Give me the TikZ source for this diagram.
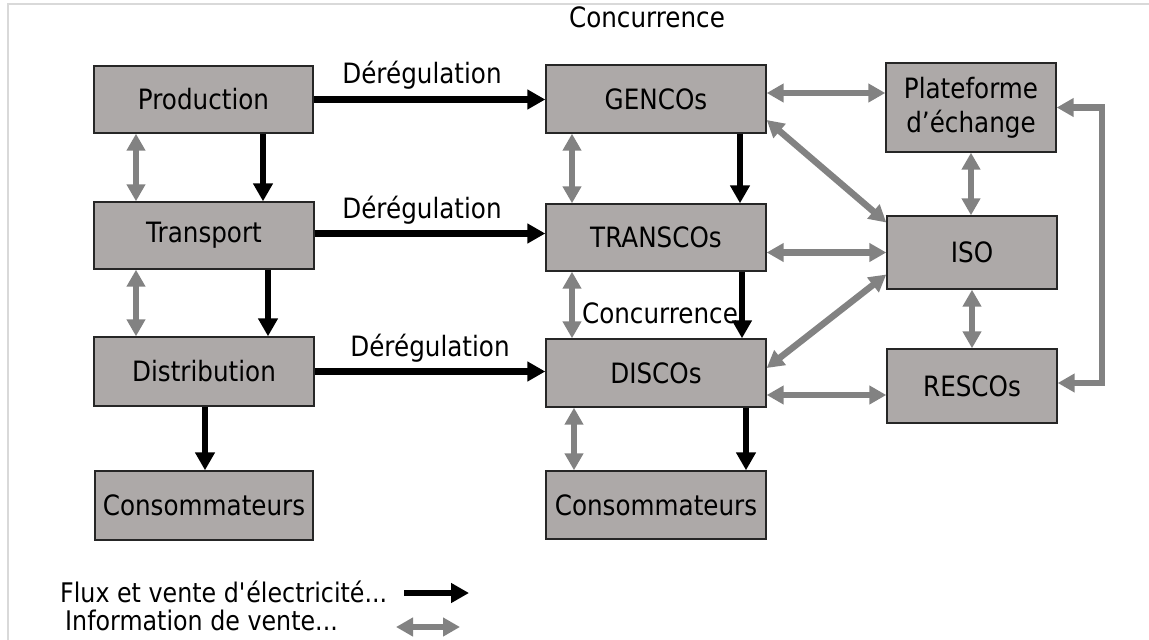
\documentclass[tikz,border=0pt]{standalone}
\usepackage{fontspec}
\setmainfont{DejaVu Sans}[FakeStretch=0.88]
\usetikzlibrary{arrows.meta}
\definecolor{boxgray}{RGB}{173,169,168}
\definecolor{infogray}{RGB}{130,130,130}
\definecolor{framegray}{RGB}{217,217,217}
\begin{document}
\begin{tikzpicture}[x=1pt,y=-1pt,
  box/.style={draw=black!85, fill=boxgray, line width=1.4pt, inner sep=0pt,
    align=center, font=\fontsize{28}{34}\selectfont},
  lbl/.style={inner sep=0pt, font=\fontsize{28}{34}\selectfont},
  legtext/.style={inner sep=0pt, font=\fontsize{27}{33}\selectfont},
  flow/.style={draw=black, line width=6.5pt, -{Triangle[length=18pt,width=19pt]}},
  info/.style={draw=infogray, line width=6.5pt, line join=miter,
    {Triangle[length=17pt,width=18pt]}-{Triangle[length=17pt,width=18pt]}}]
\useasboundingbox (0,0) rectangle (1149,640);
% outer frame (top and left edges only)
\draw[framegray, line width=2.5pt] (8,640) -- (8,4) -- (1149,4);

% regulated chain
\node[box, minimum width=219pt, minimum height=67pt] (prod)  at (203.5,99.5) {Production};
\node[box, minimum width=220pt, minimum height=67pt] (trans) at (204,235.5) {Transport};
\node[box, minimum width=220pt, minimum height=69pt] (dist)  at (204,371.5) {Distribution};
\node[box, minimum width=218pt, minimum height=69pt] (consL) at (204,505.5) {Consommateurs};

% deregulated market
\node[box, minimum width=220pt, minimum height=68pt] (gen)    at (656,99) {GENCOs};
\node[box, minimum width=220pt, minimum height=67pt] (transco) at (656,237.5) {TRANSCOs};
\node[box, minimum width=220pt, minimum height=68pt] (disco)  at (656,373) {DISCOs};
\node[box, minimum width=220pt, minimum height=68pt] (consR)  at (656,505) {Consommateurs};
\node[box, minimum width=170pt, minimum height=89pt] (plat)   at (971,107.5) {Plateforme\\d’échange};
\node[box, minimum width=170pt, minimum height=73pt] (iso)    at (972,252.5) {ISO};
\node[box, minimum width=170pt, minimum height=74pt] (resco)  at (972,386) {RESCOs};

% labels
\node[lbl] (conc1) at (647,17) {Concurrence};
\node[lbl] (conc2) at (660,313) {Concurrence};
\node[lbl] (der1) at (422,75) {Dérégulation};
\node[lbl] (der2) at (422,210) {Dérégulation};
\node[lbl] (der3) at (430,348) {Dérégulation};

% deregulation arrows
\draw[flow] (prod.east) -- (prod.east -| gen.west);
\draw[flow] ([yshift=2pt]trans.east) -- ([yshift=2pt]trans.east -| transco.west);
\draw[flow] (dist.east) -- (dist.east -| disco.west);

% energy flow, left column
\draw[flow] ([xshift=59.5pt]prod.south) -- ([xshift=59.5pt]prod.south |- trans.north);
\draw[flow] ([xshift=64pt]trans.south) -- ([xshift=64pt]trans.south |- dist.north);
\draw[flow] ([xshift=1pt]dist.south) -- ([xshift=1pt]dist.south |- consL.north);

% energy flow, right column
\draw[flow] ([xshift=84pt]gen.south) -- ([xshift=84pt]gen.south |- transco.north);
\draw[flow] ([xshift=86pt]transco.south) -- ([xshift=86pt]transco.south |- disco.north);
\draw[flow] ([xshift=90pt]disco.south) -- ([xshift=90pt]disco.south |- consR.north);

% information, left column
\draw[info] ([xshift=-67.5pt]prod.south) -- ([xshift=-67.5pt]prod.south |- trans.north);
\draw[info] ([xshift=-68pt]trans.south) -- ([xshift=-68pt]trans.south |- dist.north);

% information, right column
\draw[info] ([xshift=-84pt]gen.south) -- ([xshift=-84pt]gen.south |- transco.north);
\draw[info] ([xshift=-84pt]transco.south) -- ([xshift=-84pt]transco.south |- disco.north);
\draw[info] ([xshift=-82pt]disco.south) -- ([xshift=-82pt]disco.south |- consR.north);

% information with market operators
\draw[info] ([yshift=6pt]gen.east) -- ([yshift=6pt]gen.east -| plat.west);
\draw[info] ([yshift=-21pt]gen.east) -- ([yshift=30pt]iso.west);
\draw[info] (iso.west) -- (iso.west -| transco.east);
\draw[info] ([yshift=5pt]disco.east) -- ([yshift=-22pt]iso.west);
\draw[info] ([yshift=-22pt]disco.east) -- ([yshift=-22pt]disco.east -| resco.west);
\draw[info] (plat.south) -- (plat.south |- iso.north);
\draw[info] (iso.south) -- (iso.south |- resco.north);
\coordinate (bus) at (1102,0);
\draw[info] (plat.east) -- (plat.east -| bus) -- ([yshift=3pt]resco.east -| bus) -- ([yshift=3pt]resco.east);

% legend
\node[legtext, anchor=west] (leg1) at (60,592) {Flux et vente d\textquotesingle électricité...};
\node[legtext, anchor=west] (leg2) at (65,620) {Information de vente...};
\coordinate (f1) at (404,593);
\coordinate (f2) at (469,593);
\coordinate (i1) at (396,627);
\coordinate (i2) at (460,627);
\draw[flow] (f1) -- (f2);
\draw[info] (i1) -- (i2);
\end{tikzpicture}
\end{document}
